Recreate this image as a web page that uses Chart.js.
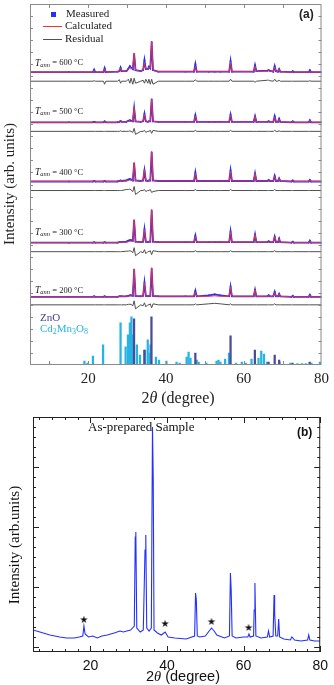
<!DOCTYPE html>
<html>
<head>
<meta charset="utf-8">
<script src="https://cdn.jsdelivr.net/npm/chart.js@4.4.1/dist/chart.umd.min.js"></script>
<style>
  html, body { margin: 0; padding: 0; background: #fff; }
  canvas { display: block; }
</style>
</head>
<body>
<canvas id="chartA" width="334" height="410"></canvas>
<canvas id="chartB" width="334" height="275"></canvas>
<script>
// ---------- (a) Rietveld refinements, annealed samples ----------
const TWO_THETA_A = [5, 15, 21.2, 21.5, 21.8, 23.9, 24.2, 24.5, 27.5, 28.0,
  28.3, 28.6, 29.8, 30.3, 30.7, 31.0, 31.45, 31.8, 32.15, 33.5,
  34.1, 34.45, 34.8, 35.3, 35.6, 35.95, 36.3, 36.65, 38, 45,
  47.2, 47.55, 47.9, 51.0, 52.5, 54.0, 56.25, 56.6, 56.95, 62.55,
  62.9, 63.25, 66.1, 66.4, 66.7, 67.6, 67.95, 68.3, 68.8, 69.1,
  69.4, 72.3, 72.6, 72.9, 76.7, 77.0, 77.3, 80];

const TEMPS = [600, 500, 400, 300, 200];

const MEAS_600 = [0, 0, 0, 2.5, 0, 0, 4, 0, 0.5, 1,
  4.5, 1, 1, 3.5, 6, 4.5, 3, 18, 2, 1,
  2, 12, 3, 3, 5.5, 4, 30, 2, 0.5, 0.5,
  0.5, 8, 0.5, 0.5, 0.5, 0.5, 0.5, 11, 0.5, 0.5,
  7, 1, 1.5, 2, 1.5, 0.5, 6, 1, 0.5, 3,
  0.5, 0, 1, 0, 0, 2, 0, 0];
const CALC_600 = [0, 0, 0, 2, 0, 0, 3, 0, 0.5, 1,
  4, 1, 1, 3, 5, 4, 3, 19, 2, 1,
  2, 10, 3, 3, 5, 4, 31, 2, 0.5, 0.5,
  0.5, 6, 0.5, 0.5, 0.5, 0.5, 0.5, 10, 0.5, 0.5,
  6, 1, 1, 2, 1, 0.5, 5, 1, 0.5, 3,
  0.5, 0, 1, 0, 0, 1.5, 0, 0];
const RESID_600 = [0, 0, 0, 0.5, 0, 0, -3, 0, 0, 1.5,
  -2, 0, 0, 2, -2, 3, -3, 3, -2, 0,
  1, -2, 2, -2, 2, -3, 2, -3, 0, 0,
  0, 1.5, 0, 0, 0, 0, 0, 2, 0, 0,
  -1, 0, 1, 1, 0.5, 0, 2, 0, 0, 1,
  0, 0, 0, 0, 0, 0.5, 0, 0];

const MEAS_500 = [0, 0, 0, 0.5, 0, 0, 1, 0, 0, 0.5,
  1.5, 0.5, 0.5, 1.5, 2, 1.5, 1, 14, 1, 0.5,
  1, 8.5, 1, 0.5, 1, 1, 23, 1, 0.5, 0.5,
  0.5, 7, 0.5, 0.5, 0.5, 0.5, 0.5, 7.5, 0.5, 0.5,
  6, 0.5, 0.5, 1, 0.5, 0.5, 6, 0.5, 0.5, 3.5,
  0.5, 0, 1, 0, 0, 2, 0, 0];
const CALC_500 = [0, 0, 0, 0.5, 0, 0, 1, 0, 0, 0.5,
  1.5, 0.5, 0.5, 1, 1.5, 1, 1, 15, 1, 0.5,
  1, 8, 1, 0.5, 1, 1, 23, 1, 0.5, 0.5,
  0.5, 6, 0.5, 0.5, 0.5, 0.5, 0.5, 7, 0.5, 0.5,
  6, 0.5, 0.5, 1, 0.5, 0.5, 5, 0.5, 0.5, 3,
  0.5, 0, 1, 0, 0, 2, 0, 0];
const RESID_500 = [0, 0, 0, 0, 0, 0, 0, 0, 0, 0,
  0.5, 0, 0, 0, 0.5, 0, -1, 3, -3, 0,
  0, 1, -1, 0, 0, 1, -2, 1, 0, 0,
  0, 1, 0, 0, 0, 0, 0, 1, 0, 0,
  0, 0, 0, 0, 0, 0, 1, 0, 0, 0.5,
  0, 0, 0, 0, 0, 0, 0, 0];

const MEAS_400 = [0, 0, 0, 0.5, 0, 0, 0.5, 0, 0, 0.5,
  1, 0.5, 1, 2, 2.5, 2, 1, 18, 1, 0.5,
  1, 11, 1, 0.5, 1, 1, 29, 1, 0.5, 0.5,
  0.5, 9, 0.5, 0.5, 0.5, 0.5, 0.5, 11, 0.5, 0.5,
  8, 0.5, 0.5, 1.5, 0.5, 0.5, 5.5, 0.5, 0.5, 3,
  0.5, 0, 1, 0, 0, 1.5, 0, 0];
const CALC_400 = [0, 0, 0, 0.5, 0, 0, 0.5, 0, 0, 0.5,
  1, 0.5, 0.5, 1, 1.5, 1.5, 1, 19, 1, 0.5,
  1, 12, 1, 0.5, 1, 1, 30, 1, 0.5, 0.5,
  0.5, 8, 0.5, 0.5, 0.5, 0.5, 0.5, 10, 0.5, 0.5,
  8, 0.5, 0.5, 1.5, 0.5, 0.5, 5, 0.5, 0.5, 3,
  0.5, 0, 1, 0, 0, 1.5, 0, 0];
const RESID_400 = [0, 0, 0, 0, 0, 0, 0, 0, 0, 0,
  0, 0, 1, 1, 1.5, 0.5, -1, 4, -4, 0,
  0, 1, -1, 0, 0, 1, -2, -1, 0, 0,
  0, 1, 0, 0, 0, 0, 0, 1, 0, 0,
  0, 0, 0, 0, 0, 0, 1, 0, 0, 0,
  0, 0, 0, 0, 0, 0, 0, 0];

const MEAS_300 = [0, 0, 0, 0.5, 0, 0, 0.5, 0, 0, 0.5,
  0.5, 0.5, 1, 2, 2.5, 2.5, 2, 22, 1, 0.5,
  1, 13, 1, 0.5, 1, 1, 32, 1, 0.5, 0.5,
  0.5, 7, 0.5, 0.5, 0.5, 0.5, 0.5, 11, 0.5, 0.5,
  8, 0.5, 0.5, 1.5, 0.5, 0.5, 6, 0.5, 0.5, 4,
  0.5, 0, 1, 0, 0, 2, 0, 0];
const CALC_300 = [0, 0, 0, 0.5, 0, 0, 0.5, 0, 0, 0.5,
  0.5, 0.5, 0.5, 1, 1.5, 1.5, 1, 23, 1, 0.5,
  1, 13, 1, 0.5, 1, 1, 33, 1, 0.5, 0.5,
  0.5, 6, 0.5, 0.5, 0.5, 0.5, 0.5, 11, 0.5, 0.5,
  8, 0.5, 0.5, 1.5, 0.5, 0.5, 6, 0.5, 0.5, 4,
  0.5, 0, 1, 0, 0, 2, 0, 0];
const RESID_300 = [0, 0, 0, 0, 0, 0, 0, 0, 0, 0,
  0, 0, 0.5, 0.5, 1, 0.5, -1, 4, -4, 0,
  -1, 2, -2, 0, 0, 1, -3, 1, 0, 0,
  0, 1, 0, 0, 0, 0, 0, 1, 0, 0,
  0, 0, 0, 0, 0, 0, 1, 0, 0, 0,
  0, 0, 0, 0, 0, 0, 0, 0];

const MEAS_200 = [0, 0, 0, 0.5, 0, 0, 0.5, 0, 0, 0.5,
  0.5, 0.5, 0.5, 1, 1.5, 1.5, 1, 27, 1, 0.5,
  1, 14, 1, 0.5, 1, 1, 28, 1, 0.5, 0.5,
  0.5, 6, 0.5, 1.5, 2.5, 1.5, 0.5, 10, 0.5, 0.5,
  7, 0.5, 0.5, 1.5, 0.5, 0.5, 5, 0.5, 0.5, 3,
  0.5, 0, 1, 0, 0, 2, 0, 0];
const CALC_200 = [0, 0, 0, 0.5, 0, 0, 0.5, 0, 0, 0.5,
  0.5, 0.5, 0.5, 0.5, 1, 1, 1, 28, 1, 0.5,
  1, 14, 1, 0.5, 1, 1, 29, 1, 0.5, 0.5,
  0.5, 5, 0.5, 0.5, 1, 0.5, 0.5, 10, 0.5, 0.5,
  7, 0.5, 0.5, 1.5, 0.5, 0.5, 4, 0.5, 0.5, 3,
  0.5, 0, 1, 0, 0, 2, 0, 0];
const RESID_200 = [0, 0, 0, 0, 0, 0, 0, 0, 0, 0,
  0, 0, 0, 0.5, 0.5, 0.5, -1, 4, -4, 0,
  -1, 2, -2, 0, 0, 1, -3, 1, 0, 0,
  0, 1, 0, 1, 1.5, 1, 0, 1, 0, 0,
  0, 0, 0, 0, 0, 0, 1, 0, 0, 0,
  0, 0, 0, 0, 0, 0, 0, 0];

// vertical shift of each pattern and of its difference curve
const OFFSET_MEAS = [292, 242, 183, 122, 68];
const OFFSET_RESID = [283, 233, 174, 113, 60];

// reference stick patterns
const ZNO_POS = [31.77, 34.42, 36.25, 47.54, 56.6, 62.86, 66.38, 67.96, 69.1, 72.56, 76.95];
const ZNO_INT = [46, 15, 48, 12, 29, 15, 3, 10, 5, 2, 3];
const CMO_POS = [10.2, 19.0, 19.8, 21.2, 23.8, 28.3, 29.6, 30.2, 30.7, 31.1,
  31.5, 32.5, 33.3, 34.6, 35.3, 35.8, 36.0, 37.4, 38.2, 40.1,
  42.7, 43.5, 45.3, 45.8, 46.3, 47.9, 48.4, 50.4, 53.0, 53.5,
  54.0, 55.2, 56.2, 58.0, 59.5, 60.5, 62.0, 63.8, 64.5, 65.2,
  66.0, 69.2, 72.0, 73.8, 75.0, 76.0, 77.4, 79.6];
const CMO_INT = [1, 4, 2, 9, 20, 42, 18, 30, 42, 48,
  30, 20, 10, 15, 25, 12, 20, 8, 5, 4,
  3, 2, 8, 13, 7, 5, 3, 2, 4, 5,
  3, 6, 12, 2, 3, 2, 6, 7, 14, 11,
  3, 3, 2, 1.5, 1.5, 1.5, 2, 3];

// ---------- (b) as-prepared sample ----------
const TWO_THETA_B = [5.0, 6.8, 9.4, 12.0, 13.8, 15.8, 17.1, 18.0, 18.3, 18.6,
  19.5, 20.6, 21.8, 23.0, 24.4, 26.2, 27.7, 28.6, 29.5, 30.5,
  31.45, 31.7, 31.85, 32.1, 33.0, 33.8, 34.25, 34.45, 34.7, 35.3,
  35.9, 36.2, 36.4, 36.6, 37.5, 38.5, 39.5, 40.3, 42.0, 45.0,
  47.2, 47.45, 47.65, 47.9, 48.5, 50.0, 51.0, 51.6, 52.3, 53.0,
  55.0, 56.3, 56.55, 56.75, 57.0, 58.0, 60.0, 61.1, 61.4, 61.7,
  62.6, 62.75, 62.95, 63.2, 64.5, 66.2, 66.5, 66.8, 67.7, 67.95,
  68.1, 68.4, 68.9, 69.15, 69.4, 70.5, 72.2, 72.6, 73.3, 75.0,
  76.7, 77.0, 77.3, 78.5, 80.0];
const INT_B = [1.7, 1.5, 1.2, 1.0, 0.9, 0.9, 1.0, 1.1, 2.1, 1.3,
  1.0, 1.1, 0.9, 1.1, 1.2, 1.4, 1.6, 1.5, 1.6, 1.7,
  2.1, 11.0, 11.5, 1.9, 1.5, 1.7, 9.7, 11.2, 1.9, 1.6,
  1.9, 22.0, 16.7, 1.7, 1.4, 1.2, 1.5, 1.0, 0.9, 0.8,
  1.1, 5.4, 4.7, 1.1, 1.0, 1.1, 1.6, 1.9, 1.6, 1.2,
  0.9, 1.1, 7.4, 5.7, 1.1, 0.9, 1.0, 1.0, 1.3, 1.0,
  1.1, 3.7, 6.4, 1.1, 0.9, 1.0, 1.6, 1.0, 1.1, 5.2,
  3.4, 1.1, 1.1, 2.8, 1.0, 0.8, 0.7, 1.0, 0.7, 0.6,
  0.7, 1.2, 0.7, 0.6, 0.6];
// secondary-phase reflections marked with a star
const STAR_POS = [18.3, 39.5, 51.6, 61.3];
const STAR_INT = [2.7, 2.3, 2.5, 1.9];

// ---------- helpers ----------
const SERIF = '"Liberation Serif", "DejaVu Serif", serif';
const SANS = '"Liberation Sans", Arial, sans-serif';
const BLUE = '#2330ff';
const RED = '#f0303c';
const GREY = '#505050';

function toXY(xs, ys, off) {
  return xs.map((x, i) => ({ x: x, y: ys[i] + off }));
}

function richText(ctx, x, y, parts, align) {
  let w = 0;
  parts.forEach(p => { ctx.font = p[1]; w += ctx.measureText(p[0]).width; });
  let cx = align === 'center' ? x - w / 2 : x;
  parts.forEach(p => {
    ctx.font = p[1];
    ctx.fillText(p[0], cx, y + (p[2] || 0));
    cx += ctx.measureText(p[0]).width;
  });
}

// frame + inward tick marks on all four sides
function framePlugin(color, xTicks, yTicks) {
  return {
    id: 'frameTicks',
    afterDatasetsDraw(chart) {
      const { ctx, chartArea: a, scales } = chart;
      ctx.save();
      ctx.strokeStyle = color;
      ctx.lineWidth = 1;
      ctx.strokeRect(a.left + 0.5, a.top + 0.5, a.right - a.left - 1, a.bottom - a.top - 1);
      ctx.beginPath();
      xTicks.forEach(t => {
        const px = Math.round(scales.x.getPixelForValue(t[0])) + 0.5;
        ctx.moveTo(px, a.top); ctx.lineTo(px, a.top + t[1]);
        ctx.moveTo(px, a.bottom); ctx.lineTo(px, a.bottom - t[1]);
      });
      yTicks.forEach(t => {
        const py = Math.round(scales.y.getPixelForValue(t[0])) + 0.5;
        ctx.moveTo(a.left, py); ctx.lineTo(a.left + t[1], py);
        ctx.moveTo(a.right, py); ctx.lineTo(a.right - t[1], py);
      });
      ctx.stroke();
      ctx.restore();
    }
  };
}

// ---------- chart (a) ----------
const PATTERNS = [
  { meas: MEAS_600, calc: CALC_600, resid: RESID_600 },
  { meas: MEAS_500, calc: CALC_500, resid: RESID_500 },
  { meas: MEAS_400, calc: CALC_400, resid: RESID_400 },
  { meas: MEAS_300, calc: CALC_300, resid: RESID_300 },
  { meas: MEAS_200, calc: CALC_200, resid: RESID_200 }
];

const datasetsA = [];
PATTERNS.forEach((p, i) => {
  datasetsA.push({
    label: 'Calculated ' + TEMPS[i],
    data: toXY(TWO_THETA_A, p.calc, OFFSET_MEAS[i]),
    borderColor: RED, borderWidth: 1, pointRadius: 0, order: 1
  });
  datasetsA.push({
    label: 'Measured ' + TEMPS[i],
    data: toXY(TWO_THETA_A, p.meas, OFFSET_MEAS[i]),
    borderColor: BLUE, borderWidth: 1.8, pointRadius: 1.1, pointStyle: 'rect',
    pointBackgroundColor: BLUE, pointBorderWidth: 0, order: 2
  });
  datasetsA.push({
    label: 'Residual ' + TEMPS[i],
    data: toXY(TWO_THETA_A, p.resid, OFFSET_RESID[i]),
    borderColor: GREY, borderWidth: 1, pointRadius: 0, order: 3
  });
});
datasetsA.push({
  type: 'bar', label: 'ZnO',
  data: ZNO_POS.map((x, i) => ({ x: x, y: ZNO_INT[i] })),
  backgroundColor: '#4a4c98', barThickness: 1.6, grouped: false, order: 4
});
datasetsA.push({
  type: 'bar', label: 'Cd2Mn3O8',
  data: CMO_POS.map((x, i) => ({ x: x, y: CMO_INT[i] })),
  backgroundColor: '#25b4e4', barThickness: 1.6, grouped: false, order: 5
});

const ticksA_x = [10, 20, 30, 40, 50, 60, 70].map(v => [v, 4]);
const ticksA_y = [];
for (let v = 12; v < 360; v += 12) ticksA_y.push([v, 3]);

const textA = {
  id: 'textA',
  afterDraw(chart) {
    const { ctx, scales: { x, y } } = chart;
    ctx.save();
    ctx.textBaseline = 'middle';
    ctx.fillStyle = '#222';

    // axis titles
    ctx.save();
    ctx.translate(10, 184);
    ctx.rotate(-Math.PI / 2);
    ctx.textAlign = 'center';
    ctx.font = '15px ' + SERIF;
    ctx.fillText('Intensity (arb. units)', 0, 0);
    ctx.restore();
    richText(ctx, 178, 399, [['2', '16px ' + SERIF], ['\u03B8', 'italic 16px ' + SERIF], [' (degree)', '16px ' + SERIF]], 'center');

    // legend
    ctx.fillStyle = BLUE;
    ctx.fillRect(51, 12, 5, 5);
    ctx.lineWidth = 1;
    ctx.strokeStyle = RED;
    ctx.beginPath(); ctx.moveTo(43, 26.5); ctx.lineTo(62, 26.5); ctx.stroke();
    ctx.strokeStyle = GREY;
    ctx.beginPath(); ctx.moveTo(43, 39.5); ctx.lineTo(62, 39.5); ctx.stroke();
    ctx.fillStyle = '#222';
    ctx.font = '11px ' + SERIF;
    ctx.fillText('Measured', 66, 14);
    ctx.fillText('Calculated', 65, 26);
    ctx.fillText('Residual', 65, 39);

    // panel tag
    ctx.font = 'bold 12px ' + SANS;
    ctx.fillText('(a)', 299, 15);

    // annealing temperatures
    const labelY = [301, 253, 192, 132, 74];
    TEMPS.forEach((t, i) => {
      richText(ctx, x.getPixelForValue(6.3), y.getPixelForValue(labelY[i]), [
        ['T', 'italic 9.5px ' + SERIF],
        ['ann', 'italic 6.5px ' + SERIF, 2],
        [' = ' + t + ' \u00B0C', '8.5px ' + SERIF]
      ]);
    });

    // reference phases
    ctx.fillStyle = '#3e3f8e';
    ctx.font = '11px ' + SERIF;
    ctx.fillText('ZnO', 40, 318);
    ctx.fillStyle = '#25b4e4';
    richText(ctx, 40, 329, [
      ['Cd', '11px ' + SERIF], ['2', '8px ' + SERIF, 3],
      ['Mn', '11px ' + SERIF], ['3', '8px ' + SERIF, 3],
      ['O', '11px ' + SERIF], ['8', '8px ' + SERIF, 3]
    ]);
    ctx.restore();
  }
};

new Chart(document.getElementById('chartA'), {
  type: 'line',
  data: { datasets: datasetsA },
  options: {
    responsive: false,
    animation: false,
    devicePixelRatio: 1,
    layout: { padding: { top: 3, right: 8, left: 0, bottom: 0 } },
    elements: { line: { tension: 0 } },
    plugins: { legend: { display: false }, tooltip: { enabled: false } },
    scales: {
      x: {
        type: 'linear', min: 5, max: 80, offset: false,
        grid: { display: false, drawTicks: false }, border: { display: false },
        afterBuildTicks: s => { s.ticks = [20, 40, 60, 80].map(v => ({ value: v })); },
        afterFit: s => { s.height = 45; },
        ticks: { color: '#222', font: { family: SERIF, size: 15 }, padding: 5, maxRotation: 0, autoSkip: false }
      },
      y: {
        min: 0, max: 360,
        grid: { display: false, drawTicks: false }, border: { display: false },
        ticks: { display: false },
        afterFit: s => { s.width = 30; }
      }
    }
  },
  plugins: [framePlugin('#8a8a8a', ticksA_x, ticksA_y), textA]
});

// ---------- chart (b) ----------
const starImg = document.createElement('canvas');
starImg.width = 10; starImg.height = 10;
(function () {
  const c = starImg.getContext('2d');
  c.fillStyle = '#111';
  c.font = '10px "DejaVu Sans", sans-serif';
  c.textAlign = 'center';
  c.textBaseline = 'middle';
  c.fillText('\u2605', 5, 5.5);
})();

const ticksB_x = [];
for (let k = 2; k <= 24; k++) ticksB_x.push([k * 10 / 3, k % 6 === 0 ? 6 : 3]);
const ticksB_y = [];
for (let v = 0; v <= 23; v++) ticksB_y.push([v, v % 6 === 0 ? 6 : 3]);

const textB = {
  id: 'textB',
  afterDraw(chart) {
    const { ctx } = chart;
    ctx.save();
    ctx.textBaseline = 'middle';
    ctx.fillStyle = '#111';
    ctx.save();
    ctx.translate(15, 135);
    ctx.rotate(-Math.PI / 2);
    ctx.textAlign = 'center';
    ctx.font = '15px ' + SERIF;
    ctx.fillText('Intensity (arb.units)', 0, 0);
    ctx.restore();
    richText(ctx, 183, 267, [['2', '14.5px ' + SANS], ['\u03B8', 'italic 14.5px ' + SERIF], [' (degree)', '14.5px ' + SANS]], 'center');
    ctx.font = '13px ' + SERIF;
    ctx.fillText('As-prepared Sample', 88, 18);
    ctx.font = 'bold 12px ' + SANS;
    ctx.fillText('(b)', 297, 23);
    ctx.restore();
  }
};

new Chart(document.getElementById('chartB'), {
  type: 'line',
  data: {
    datasets: [
      {
        label: 'As-prepared',
        data: toXY(TWO_THETA_B, INT_B, 0),
        borderColor: BLUE, borderWidth: 1.1, pointRadius: 0, order: 1
      },
      {
        label: 'Impurity',
        data: toXY(STAR_POS, STAR_INT, 0),
        showLine: false, pointStyle: starImg, pointRadius: 5, order: 0
      }
    ]
  },
  options: {
    responsive: false,
    animation: false,
    devicePixelRatio: 1,
    layout: { padding: { top: 7, right: 8, left: 0, bottom: 0 } },
    elements: { line: { tension: 0 } },
    plugins: { legend: { display: false }, tooltip: { enabled: false } },
    scales: {
      x: {
        type: 'linear', min: 5, max: 80, offset: false,
        grid: { display: false, drawTicks: false }, border: { display: false },
        afterBuildTicks: s => { s.ticks = [20, 40, 60, 80].map(v => ({ value: v })); },
        afterFit: s => { s.height = 33; },
        ticks: { color: '#111', font: { family: SANS, size: 14 }, padding: 6, maxRotation: 0, autoSkip: false }
      },
      y: {
        min: -0.5, max: 23,
        grid: { display: false, drawTicks: false }, border: { display: false },
        ticks: { display: false },
        afterFit: s => { s.width = 33; }
      }
    }
  },
  plugins: [framePlugin('#222', ticksB_x, ticksB_y), textB]
});
</script>
</body>
</html>
